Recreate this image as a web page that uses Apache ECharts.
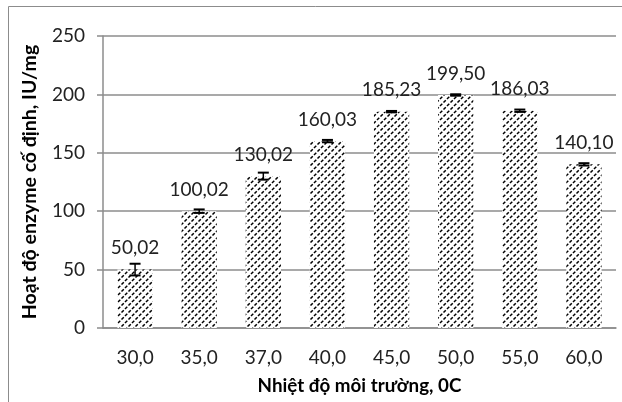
<!DOCTYPE html>
<html><head><meta charset="utf-8">
<script src="https://cdn.jsdelivr.net/npm/echarts@6/dist/echarts.min.js"></script>
<style>html,body{margin:0;padding:0;background:#fff}#c{width:622px;height:402px}</style>
</head><body><div id="c"></div>
<script>
const categories = ['30,0','35,0','37,0','40,0','45,0','50,0','55,0','60,0'];
const values = [50.02, 100.02, 130.02, 160.03, 185.23, 199.50, 186.03, 140.10];
const errors = [5, 1.5, 3, 1, 0.6, 0.6, 1, 1];
const yTicks = [0, 50, 100, 150, 200, 250];

function makePattern(){
  const s = 7;
  const c = document.createElement('canvas');
  c.width = s; c.height = s;
  const g = c.getContext('2d');
  g.fillStyle = '#fff'; g.fillRect(0,0,s,s);
  g.strokeStyle = '#000'; g.lineWidth = 1.5;
  g.setLineDash([3.2, 1.75]);
  [-s,0,s].forEach(o=>{g.beginPath(); g.moveTo(o-1,s+1); g.lineTo(o+s+1,-1); g.stroke();});
  return c;
}
const font = 'Lato, "Open Sans", sans-serif';
const chart = echarts.init(document.getElementById('c'));
chart.setOption({
  animation:false,
  graphic:[{type:'rect',shape:{x:8.5,y:6.5,width:640,height:420},style:{fill:'none',stroke:'#8c8c8c',lineWidth:1}}],
  grid:{left:103,right:6,top:36,bottom:74},
  xAxis:{type:'category',data:categories,
    axisLine:{show:true,lineStyle:{color:'#8c8c8c',width:1.5}},
    axisTick:{show:false},
    axisLabel:{color:'#222',fontSize:19,fontFamily:font,margin:20},
    name:'Nhiệt độ môi trường, 0C',nameLocation:'middle',nameGap:48,
    nameTextStyle:{color:'#000',fontSize:18.8,fontWeight:'bold',fontFamily:font}},
  yAxis:{type:'value',min:0,max:250,interval:50,
    axisLine:{show:true,lineStyle:{color:'#8c8c8c',width:1.5}},
    axisTick:{show:true,length:6,lineStyle:{color:'#8c8c8c',width:1.5}},
    splitLine:{lineStyle:{color:'#8c8c8c',width:1.5}},
    axisLabel:{color:'#222',fontSize:19,fontFamily:font,margin:18,
      formatter:v=>yTicks.includes(v)?String(v):''},
    name:'Hoạt độ enzyme cố định, IU/mg',nameLocation:'middle',nameGap:63,
    nameTextStyle:{color:'#000',fontSize:19.5,fontWeight:'bold',fontFamily:font}},
  series:[{
    type:'bar',data:values,barWidth:'55%',
    itemStyle:{color:{image:makePattern(),repeat:'repeat'}},
    label:{show:true,position:'top',distance:12,color:'#222',fontSize:19,fontFamily:font,
      formatter:p=>p.value.toFixed(2).replace('.',',')}
  },{
    type:'custom',
    data:values.map((v,i)=>[i,v,errors[i]]),
    renderItem:(params,api)=>{
      const i=api.value(0),v=api.value(1),e=api.value(2);
      const top=api.coord([i,v+e]), bot=api.coord([i,v-e]);
      const w=5.5;
      return {type:'group',children:[
        {type:'line',shape:{x1:top[0],y1:top[1],x2:bot[0],y2:bot[1]},style:{stroke:'#000',lineWidth:1.5}},
        {type:'line',shape:{x1:top[0]-w,y1:top[1],x2:top[0]+w,y2:top[1]},style:{stroke:'#000',lineWidth:2}},
        {type:'line',shape:{x1:bot[0]-w,y1:bot[1],x2:bot[0]+w,y2:bot[1]},style:{stroke:'#000',lineWidth:2}}
      ]};
    },z:5
  }]
});
</script></body></html>
